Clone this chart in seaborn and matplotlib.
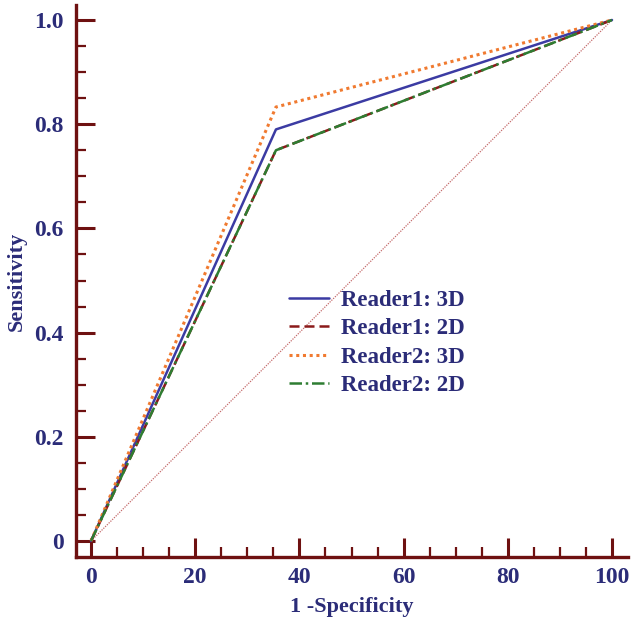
import numpy as np
import pandas as pd
import seaborn as sns
import matplotlib.pyplot as plt
from matplotlib.ticker import FixedLocator

# ROC points (1-specificity in %, sensitivity)
fpr = [0, 35.5, 100]
reader1_3d = [0, 0.79, 1.0]
reader1_2d = [0, 0.75, 1.0]
reader2_3d = [0, 0.833, 1.0]
reader2_2d = [0, 0.75, 1.0]
series_names = ["Reader1: 3D", "Reader1: 2D", "Reader2: 3D", "Reader2: 2D"]
chance_x = [0, 100]
chance_y = [0, 1]

sns.set_theme(style="ticks")
plt.rcParams['font.family'] = ['Liberation Serif', 'DejaVu Serif']

spine_col = "#6E1111"
text_col = "#2B2C78"

fig = plt.figure(figsize=(6.33, 6.22), dpi=100)
ax = fig.add_axes([76/633, 1 - 557/622, 552/633, 552/622])

ax.plot(chance_x, chance_y, color="#C46A6A", lw=0.9, linestyle=(0, (1, 1)))

styles = [
    dict(color="#3B3BA3", linestyle="-", lw=1.8),
    dict(color="#8B1A1A", linestyle=(0, (4, 2)), lw=1.8),
    dict(color="#F07A30", linestyle=(0, (1, 1.2)), lw=2.2),
    dict(color="#2E7D32", linestyle=(0, (5, 1.5, 1, 1.5)), lw=1.8),
]
values = [reader1_3d, reader1_2d, reader2_3d, reader2_2d]
for name, vals, st in zip(series_names, values, styles):
    df = pd.DataFrame({"x": fpr, "y": vals})
    sns.lineplot(data=df, x="x", y="y", ax=ax, label=name, **st)

ax.set_xlim((76 - 91) / 5.21, (628 - 91) / 5.21)
ax.set_ylim((541 - 557) / 521, (541 - 5) / 521)

for s in ["top", "right"]:
    ax.spines[s].set_visible(False)
for s in ["left", "bottom"]:
    ax.spines[s].set_color(spine_col)
    ax.spines[s].set_linewidth(2.4)

ax.xaxis.set_major_locator(FixedLocator([0, 20, 40, 60, 80, 100]))
ax.xaxis.set_minor_locator(FixedLocator([v for v in range(5, 100, 5) if v % 20]))
ax.yaxis.set_major_locator(FixedLocator([0, 0.2, 0.4, 0.6, 0.8, 1.0]))
ax.yaxis.set_minor_locator(FixedLocator([v / 100 for v in range(5, 100, 5) if v % 20]))
ax.set_yticklabels(["0", "0.2", "0.4", "0.6", "0.8", "1.0"])
ax.set_xticklabels(["0", "20", "40", "60", "80", "100"])

ax.tick_params(which="major", direction="in", length=14, width=2.2, color=spine_col,
               labelsize=17, labelcolor=text_col)
ax.tick_params(axis="y", which="major", pad=9)
ax.tick_params(axis="x", which="major", pad=7)
ax.tick_params(which="minor", direction="in", length=7, width=1.6, color=spine_col)
for lab in ax.get_xticklabels() + ax.get_yticklabels():
    lab.set_fontweight("bold")

ax.set_xlabel("1 -Specificity", fontsize=16, fontweight="bold", color=text_col, labelpad=7)
ax.set_ylabel("Sensitivity", fontsize=16, fontweight="bold", color=text_col, labelpad=5)

leg = ax.legend(loc="center", bbox_to_anchor=(0.545, 0.388), frameon=False,
                prop={"size": 16.5, "weight": "bold"}, handlelength=1.75,
                handletextpad=0.55, labelspacing=0.32)
for t in leg.get_texts():
    t.set_color(text_col)

fig.savefig("out.png", dpi=100)
